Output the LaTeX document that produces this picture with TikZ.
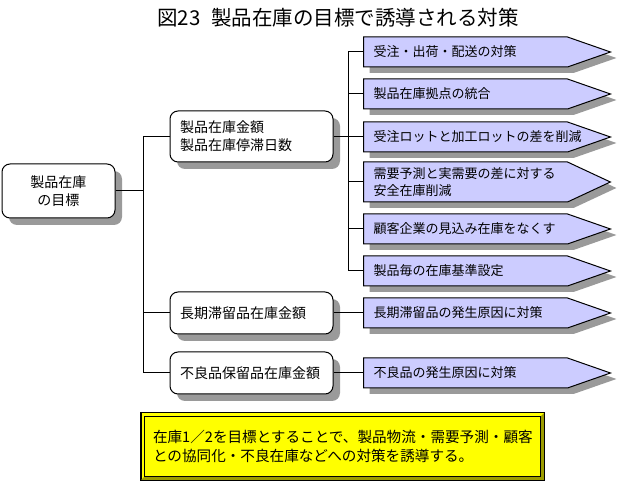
\documentclass[tikz,border=0pt]{standalone}
\usepackage{fontspec}
\setmainfont{Noto Sans CJK JP}
\definecolor{ArmLavender}{HTML}{CCCCFF}
\definecolor{ShadeGray}{HTML}{9A9A9A}
\definecolor{NoteYellow}{HTML}{FFFF00}
\definecolor{NoteOlive}{HTML}{9C9C00}
\usetikzlibrary{shapes.symbols, shadows, calc}
\tikzset{
    goalbox/.style={
        draw=black,
        fill=white,
        line width=1pt,
        rounded corners=8pt,
        drop shadow={shadow xshift=7pt, shadow yshift=-7pt, fill=ShadeGray, opacity=1},
        minimum width=113pt,
        minimum height=54pt,
        font=\fontsize{14pt}{18pt}\selectfont,
        align=center,
        inner sep=0pt
    },
    metricbox/.style={
        goalbox,
        minimum width=163pt,
        minimum height=#1,
        text width=143pt,
        align=left
    },
    metricbox/.default=42pt,
    armbox/.style={
        signal,
        signal to=east,
        signal pointer angle=#1,
        draw=black,
        fill=ArmLavender,
        line width=1pt,
        drop shadow={shadow xshift=6pt, shadow yshift=-6pt, fill=ShadeGray, opacity=1},
        minimum height=30pt,
        text width=184pt,
        inner xsep=10pt,
        inner ysep=0pt,
        font=\fontsize{13pt}{17pt}\selectfont,
        align=left,
        anchor=west
    },
    armbox/.default=38.5,
    notebox/.style={
        draw=black,
        fill=NoteYellow,
        line width=1pt,
        minimum width=403pt,
        minimum height=67pt,
        text width=379pt,
        font=\fontsize{14.6pt}{19pt}\selectfont,
        align=left
    },
    link/.style={
        draw=black,
        line width=1pt
    }
}

\begin{document}
\begin{tikzpicture}[x=1pt, y=-1pt]
        \useasboundingbox (0,0) rectangle (622,481);

        % Title
        \node[font=\fontsize{20.5pt}{24pt}\selectfont] (title) at (338,18) {図23\hspace{0.5em}製品在庫の目標で誘導される対策};

        % Goal and metrics
        \node[goalbox] (root) at (58.5,191) {製品在庫\\の目標};
        \node[metricbox=51pt] (b1) at (251.5,136.5) {製品在庫金額\\製品在庫停滞日数};
        \node[metricbox] (b2) at (251.5,313) {長期滞留品在庫金額};
        \node[metricbox] (b3) at (251.5,373) {不良品保留品在庫金額};

        % Measures
        \node[armbox] (a1) at (363,52) {受注・出荷・配送の対策};
        \node[armbox] (a2) at (363,94) {製品在庫拠点の統合};
        \node[armbox] (a3) at (363,137) {受注ロットと加工ロットの差を削減};
        \node[armbox=50, minimum height=40pt] (a4) at (363,182) {需要予測と実需要の差に対する\\安全在庫削減};
        \node[armbox] (a5) at (363,229) {顧客企業の見込み在庫をなくす};
        \node[armbox] (a6) at (363,271) {製品毎の在庫基準設定};
        \node[armbox] (a7) at (363,313) {長期滞留品の発生原因に対策};
        \node[armbox] (a8) at (363,373) {不良品の発生原因に対策};

        % Tree lines
        \coordinate (jl) at (143,0);
        \coordinate (jr) at (348,0);
        \draw[link] (root.east) -- (root.east -| jl);
        \draw[link] (b1.west -| jl) -- (b3.west -| jl);
        \foreach \b in {b1,b2,b3}
            \draw[link] (\b.west -| jl) -- (\b.west);
        \draw[link] (b1.east) -- (b1.east -| jr);
        \draw[link] (a1.west -| jr) -- (a6.west -| jr);
        \foreach \a in {a1,a2,a3,a4,a5,a6}
            \draw[link] (\a.west -| jr) -- (\a.west);
        \draw[link] (b2.east) -- (b2.east -| a7.west);
        \draw[link] (b3.east) -- (b3.east -| a8.west);

        % Summary note
        \node[notebox] (note) at (342.5,446.5) {在庫1／2を目標とすることで、製品物流・需要予測・顧客\\との協同化・不良在庫などへの対策を誘導する。};
        \fill[NoteOlive] (note.south west) -- (note.south east) -- (note.north east)
            -- ($(note.north east)+(-4,4)$) -- ($(note.south east)+(-4,-4)$) -- ($(note.south west)+(4,-4)$) -- cycle;
        \draw[line width=0.8pt] ($(note.north west)+(4,4)$) rectangle ($(note.south east)+(-4,-4)$);
        \draw[line width=1pt] (note.north west) rectangle (note.south east);
    \end{tikzpicture}
\end{document}
